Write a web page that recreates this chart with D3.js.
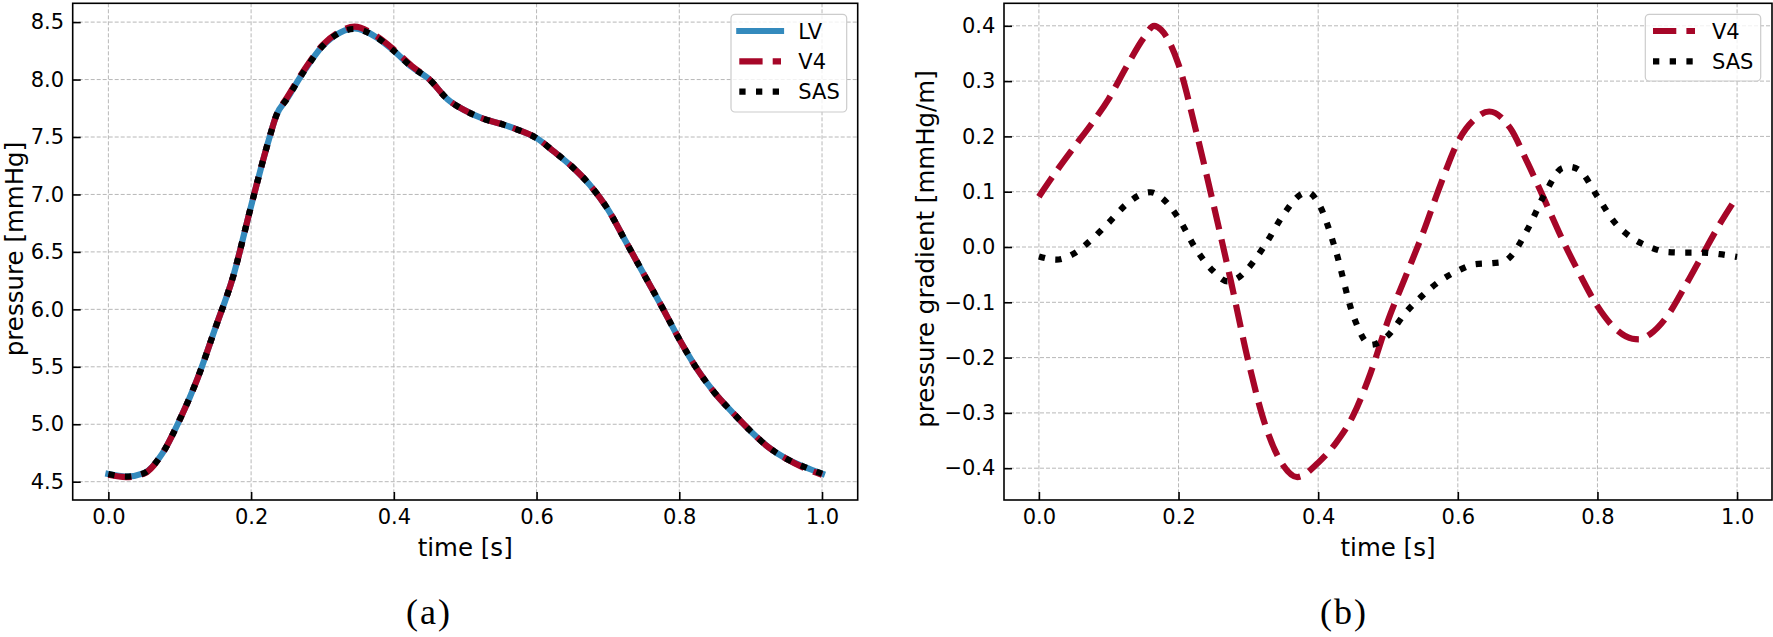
<!DOCTYPE html>
<html>
<head>
<meta charset="utf-8">
<script src="https://cdn.jsdelivr.net/npm/d3@7"></script>
<style>
  html, body { margin: 0; padding: 0; background: #fff; }
  svg { display: block; }
  text { fill: #000; }
</style>
</head>
<body>
<svg id="chart" width="1773" height="637"></svg>
<script>
// ---------------- DATA ----------------
const timeP = [0.000,0.025,0.050,0.075,0.100,0.125,0.150,0.175,0.200,0.225,0.2355,0.250,0.275,0.300,0.325,0.345,0.375,0.400,0.425,0.450,0.475,0.500,0.525,0.550,0.575,0.600,0.625,0.650,0.675,0.700,0.725,0.750,0.775,0.800,0.825,0.850,0.875,0.900,0.925,0.950,0.975,1.000];
const pressureLV  = [4.567,4.545,4.575,4.74,5.04,5.40,5.84,6.29,6.90,7.48,7.69,7.83,8.08,8.29,8.41,8.445,8.37,8.25,8.11,8.00,7.83,7.73,7.66,7.615,7.56,7.49,7.37,7.24,7.08,6.87,6.59,6.31,6.03,5.74,5.48,5.27,5.10,4.94,4.80,4.70,4.63,4.57];
const pressureV4  = [4.560,4.540,4.570,4.74,5.04,5.40,5.84,6.29,6.90,7.48,7.69,7.84,8.09,8.30,8.42,8.460,8.38,8.26,8.12,8.00,7.83,7.73,7.66,7.615,7.56,7.49,7.37,7.24,7.08,6.87,6.59,6.31,6.03,5.74,5.48,5.27,5.10,4.94,4.80,4.70,4.62,4.56];
const pressureSAS = [4.567,4.545,4.575,4.74,5.04,5.40,5.84,6.29,6.90,7.48,7.69,7.83,8.08,8.29,8.41,8.440,8.37,8.25,8.11,8.00,7.83,7.73,7.66,7.615,7.56,7.49,7.37,7.24,7.08,6.87,6.59,6.31,6.03,5.74,5.48,5.27,5.10,4.94,4.80,4.70,4.63,4.57];

const timeGV4 = [0.000,0.025,0.050,0.075,0.100,0.125,0.150,0.165,0.175,0.200,0.225,0.250,0.275,0.300,0.325,0.350,0.370,0.400,0.425,0.450,0.475,0.500,0.525,0.550,0.575,0.600,0.625,0.645,0.675,0.700,0.725,0.750,0.775,0.800,0.825,0.850,0.860,0.875,0.900,0.925,0.950,0.975,1.000];
const gradV4  = [0.091,0.137,0.180,0.222,0.268,0.325,0.378,0.400,0.393,0.330,0.210,0.077,-0.062,-0.207,-0.325,-0.395,-0.416,-0.390,-0.355,-0.305,-0.228,-0.133,-0.054,0.025,0.112,0.190,0.232,0.245,0.215,0.152,0.083,0.013,-0.050,-0.107,-0.147,-0.166,-0.167,-0.158,-0.125,-0.072,-0.015,0.041,0.091];

const timeGSAS = [0.000,0.025,0.050,0.075,0.100,0.125,0.150,0.160,0.175,0.200,0.225,0.250,0.270,0.285,0.300,0.325,0.350,0.375,0.385,0.400,0.425,0.450,0.475,0.500,0.525,0.550,0.575,0.600,0.625,0.650,0.665,0.675,0.700,0.725,0.750,0.760,0.775,0.800,0.825,0.850,0.875,0.900,0.925,0.950,0.975,1.000];
const gradSAS = [-0.017,-0.023,-0.012,0.013,0.044,0.077,0.097,0.099,0.090,0.052,-0.004,-0.044,-0.062,-0.056,-0.038,0.006,0.058,0.095,0.099,0.080,-0.006,-0.123,-0.177,-0.160,-0.119,-0.087,-0.061,-0.043,-0.031,-0.029,-0.027,-0.018,0.032,0.097,0.143,0.145,0.138,0.091,0.044,0.016,0.000,-0.009,-0.010,-0.010,-0.013,-0.018];

const xTicks = [0.0,0.2,0.4,0.6,0.8,1.0];
const yTicksP = [4.5,5.0,5.5,6.0,6.5,7.0,7.5,8.0,8.5];
const yTicksG = [-0.4,-0.3,-0.2,-0.1,0.0,0.1,0.2,0.3,0.4];

const namesA = ["LV","V4","SAS"];
const namesB = ["V4","SAS"];
const xLabel = "time [s]";
const yLabelA = "pressure [mmHg]";
const yLabelB = "pressure gradient [mmHg/m]";
const captions = ["(a)","(b)"];

// ---------------- STYLES ----------------
const SANS = '"DejaVu Sans", sans-serif';
const SERIF = '"Liberation Serif", "DejaVu Serif", serif';
const COL = {LV:"#348ABD", V4:"#A60628", SAS:"#000000"};
const LW = 6.2;
const DASH = {LV:null, V4:"23.3,10.1", SAS:"6.3,10.4"};
const CAP = {LV:"square", V4:"butt", SAS:"butt"};

const svg = d3.select("#chart");
const fmt = d3.format(".1f");

function panel(cfg) {
  const {x0, x1, y0, y1, ydom, yticks, series, ylabel, ylabelX, legend, caption} = cfg;
  const x = d3.scaleLinear().domain([-0.05, 1.05]).range([x0, x1]);
  const y = d3.scaleLinear().domain(ydom).range([y1, y0]);
  const g = svg.append("g");

  // grid
  const grid = g.append("g").attr("stroke", "#b8b8b8").attr("stroke-width", 1)
    .attr("stroke-dasharray", "4,2");
  xTicks.forEach(t => grid.append("line")
    .attr("x1", x(t)).attr("x2", x(t)).attr("y1", y0).attr("y2", y1));
  yticks.forEach(t => grid.append("line")
    .attr("x1", x0).attr("x2", x1).attr("y1", y(t)).attr("y2", y(t)));

  // lines
  const clipId = "clip" + Math.round(x0);
  svg.append("clipPath").attr("id", clipId).append("rect")
    .attr("x", x0).attr("y", y0).attr("width", x1 - x0).attr("height", y1 - y0);
  const lines = g.append("g").attr("clip-path", `url(#${clipId})`);
  series.forEach(s => {
    const line = d3.line().x((d, i) => x(s.t[i])).y(d => y(d)).curve(d3.curveMonotoneX);
    lines.append("path").datum(s.v)
      .attr("d", line)
      .attr("fill", "none")
      .attr("stroke", COL[s.name])
      .attr("stroke-width", LW)
      .attr("stroke-linecap", CAP[s.name])
      .attr("stroke-linejoin", "round")
      .attr("stroke-dasharray", DASH[s.name]);
  });

  // axes
  const ax = g.append("g").attr("transform", `translate(0,${y1})`)
    .call(d3.axisBottom(x).tickValues(xTicks).tickFormat(fmt).tickSize(-8).tickPadding(8.6));
  const ay = g.append("g").attr("transform", `translate(${x0},0)`)
    .call(d3.axisLeft(y).tickValues(yticks).tickFormat(fmt).tickSize(-8).tickPadding(8.6));
  [ax, ay].forEach(a => {
    a.select(".domain").remove();
    a.selectAll(".tick line").attr("stroke", "#000").attr("stroke-width", 1.6);
    a.selectAll(".tick text").style("font-family", SANS).style("font-size", "21px").attr("fill", "#000");
  });

  // spines
  g.append("rect").attr("x", x0).attr("y", y0).attr("width", x1 - x0).attr("height", y1 - y0)
    .attr("fill", "none").attr("stroke", "#000").attr("stroke-width", 1.6);

  // axis labels
  g.append("text").attr("x", (x0 + x1) / 2).attr("y", 556)
    .attr("text-anchor", "middle").style("font-family", SANS).style("font-size", "24.5px").text(xLabel);
  g.append("text").attr("transform", `translate(${ylabelX},249) rotate(-90)`)
    .attr("text-anchor", "middle").style("font-family", SANS).style("font-size", "24.5px").text(ylabel);

  // legend
  const L = legend;
  const lg = g.append("g");
  lg.append("rect").attr("x", L.x).attr("y", L.y).attr("width", L.w).attr("height", L.h)
    .attr("rx", 4).attr("fill", "#fff").attr("fill-opacity", 0.8)
    .attr("stroke", "#cccccc").attr("stroke-width", 1.2);
  L.names.forEach((n, i) => {
    const yy = L.y0 + i * L.dy;
    lg.append("line").attr("x1", L.hx0).attr("x2", L.hx1).attr("y1", yy).attr("y2", yy)
      .attr("stroke", COL[n]).attr("stroke-width", LW)
      .attr("stroke-linecap", CAP[n]).attr("stroke-dasharray", DASH[n]);
    lg.append("text").attr("x", L.tx).attr("y", yy + 7.6)
      .style("font-family", SANS).style("font-size", "21px").text(n);
  });

  // caption
  svg.append("text").attr("x", caption.x).attr("y", 624).attr("text-anchor", "middle")
    .style("font-family", SERIF).style("font-size", "36px")
    .style("letter-spacing", "2px").text(caption.text);
}

panel({
  x0: 72.7, x1: 857.7, y0: 3.3, y1: 500,
  ydom: [4.5 + (481.7 - 500) / 114.9, 4.5 + (481.7 - 3.3) / 114.9],
  yticks: yTicksP,
  series: [
    {name: "LV", t: timeP, v: pressureLV},
    {name: "V4", t: timeP, v: pressureV4},
    {name: "SAS", t: timeP, v: pressureSAS}
  ],
  ylabel: yLabelA, ylabelX: 23,
  legend: {x: 731, y: 14.3, w: 115.7, h: 97.7, names: namesA, y0: 31, dy: 30.3, hx0: 739.3, hx1: 781, tx: 798.3},
  caption: {x: 429, text: captions[0]}
});

panel({
  x0: 1004, x1: 1772, y0: 3.3, y1: 500,
  ydom: [(247 - 500) / 553, (247 - 3.3) / 553],
  yticks: yTicksG,
  series: [
    {name: "V4", t: timeGV4, v: gradV4},
    {name: "SAS", t: timeGSAS, v: gradSAS}
  ],
  ylabel: yLabelB, ylabelX: 933.5,
  legend: {x: 1645.3, y: 14.3, w: 115.4, h: 66.7, names: namesB, y0: 31, dy: 30.3, hx0: 1653, hx1: 1695, tx: 1712},
  caption: {x: 1344, text: captions[1]}
});
</script>
</body>
</html>
